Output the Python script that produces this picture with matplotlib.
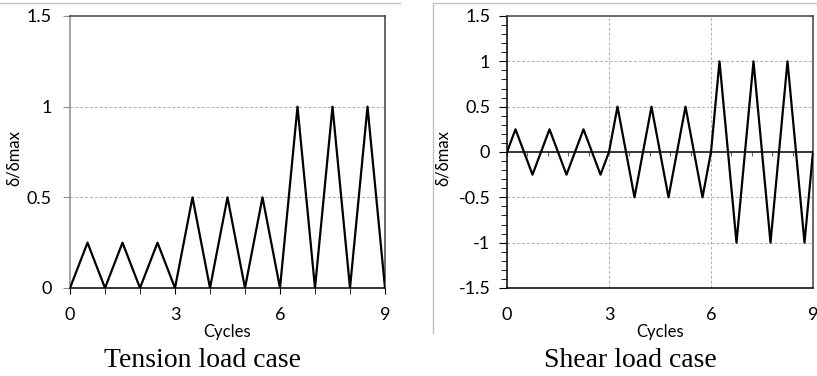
import matplotlib.pyplot as plt
from matplotlib.lines import Line2D
from matplotlib.ticker import MultipleLocator

# tension: one triangle per cycle, amplitude steps every 3 cycles
tension_x = [0, 0.5, 1, 1.5, 2, 2.5, 3, 3.5, 4, 4.5, 5, 5.5, 6, 6.5, 7, 7.5, 8, 8.5, 9]
tension_y = [0, 0.25, 0, 0.25, 0, 0.25, 0, 0.5, 0, 0.5, 0, 0.5, 0, 1, 0, 1, 0, 1, 0]

# shear: fully reversed cycles
shear_x = [0, 0.25, 0.75, 1.25, 1.75, 2.25, 2.75, 3, 3.25, 3.75, 4.25, 4.75, 5.25, 5.75,
           6, 6.25, 6.75, 7.25, 7.75, 8.25, 8.75, 9]
shear_y = [0, 0.25, -0.25, 0.25, -0.25, 0.25, -0.25, 0, 0.5, -0.5, 0.5, -0.5, 0.5, -0.5,
           0, 1, -1, 1, -1, 1, -1, 0]

x_ticks = [0, 3, 6, 9]
tension_yticks = [0, 0.5, 1, 1.5]
shear_yticks = [-1.5, -1, -0.5, 0, 0.5, 1, 1.5]

ylabel = 'δ/δmax'
tick_font = ['Lato', 'DejaVu Sans']
grid_kw = dict(color='#b0b0b0', linestyle=(0, (3, 2)), linewidth=0.7)

fig = plt.figure(figsize=(8.17, 3.76), dpi=100)

# panel frames
fig.add_artist(Line2D([0, 400 / 817], [1 - 3 / 376] * 2, transform=fig.transFigure,
                      color='#c0c0c0', lw=1))
fig.add_artist(Line2D([433 / 817, 433 / 817, 1], [1 - 333 / 376, 1 - 3 / 376, 1 - 3 / 376],
                      transform=fig.transFigure, color='#c0c0c0', lw=1))

# ---- tension
ax1 = fig.add_axes([70 / 817, 1 - 288 / 376, 315 / 817, 272 / 376])
ax1.plot(tension_x, tension_y, color='black', lw=1.6, zorder=3)
ax1.set_xlim(0, 9)
ax1.set_ylim(0, 1.5)
ax1.set_xticks(x_ticks)
ax1.xaxis.set_minor_locator(MultipleLocator(1))
ax1.set_yticks(tension_yticks)
ax1.set_yticklabels(['0', '0.5', '1', '1.5'])
for v in [0.5, 1]:
    ax1.axhline(v, **grid_kw, zorder=1)
ax1.spines['left'].set_color('#8c8c8c')
ax1.spines['top'].set_color('#404040')
ax1.spines['right'].set_color('#404040')
ax1.spines['bottom'].set_color('black')
for s in ax1.spines.values():
    s.set_linewidth(1.1)
ax1.tick_params(axis='y', direction='out', length=5, pad=8, color='#8c8c8c')
ax1.tick_params(axis='x', which='both', direction='out', length=4, pad=10)
ax1.set_xlabel('Cycles', fontsize=12, family=tick_font)
ax1.xaxis.set_label_coords((227 - 70) / 315, -(324 - 288) / 272)
ax1.set_ylabel(ylabel, fontsize=12, family=tick_font)
ax1.yaxis.set_label_coords((22 - 70) / 315, (288 - 158) / 272)

# ---- shear
ax2 = fig.add_axes([507 / 817, 1 - 288 / 376, 306 / 817, 272 / 376])
ax2.plot(shear_x, shear_y, color='black', lw=1.6, zorder=3)
ax2.set_xlim(0, 9)
ax2.set_ylim(-1.5, 1.5)
ax2.set_xticks(x_ticks)
ax2.set_yticks(shear_yticks)
ax2.set_yticklabels(['-1.5', '-1', '-0.5', '0', '0.5', '1', '1.5'])
ax2.yaxis.set_minor_locator(MultipleLocator(0.1))
for v in [-1, -0.5, 0.5, 1]:
    ax2.axhline(v, **grid_kw, zorder=1)
for v in [3, 6]:
    ax2.axvline(v, **grid_kw, zorder=1)
ax2.axhline(0, color='black', lw=1.1, zorder=2)
ax2.spines['top'].set_color('#404040')
ax2.spines['right'].set_color('#404040')
for s in ax2.spines.values():
    s.set_linewidth(1.1)
ax2.tick_params(axis='y', which='major', direction='out', length=6, pad=6)
ax2.tick_params(axis='y', which='minor', direction='out', length=4)
ax2.tick_params(axis='x', direction='out', length=0, pad=14)

# minor ticks hanging off the zero line
zero_ax = ax2.secondary_xaxis(0.5)
for s in zero_ax.spines.values():
    s.set_visible(False)
zero_ax.xaxis.set_major_locator(MultipleLocator(0.6))
zero_ax.xaxis.set_ticks_position('bottom')
zero_ax.tick_params(axis='x', direction='out', length=3, width=0.8, color='#606060',
                    labelbottom=False, labeltop=False)
ax2.set_xlabel('Cycles', fontsize=12, family=tick_font)
ax2.xaxis.set_label_coords((660 - 507) / 306, -(324 - 288) / 272)
ax2.set_ylabel(ylabel, fontsize=12, family=tick_font)
ax2.yaxis.set_label_coords((451 - 507) / 306, (288 - 158) / 272)

for ax in (ax1, ax2):
    for lab in ax.get_xticklabels() + ax.get_yticklabels():
        lab.set_fontfamily(tick_font)
        lab.set_fontsize(13)
    ax.set_facecolor('white')

fig.text(203 / 817, 1 - 367 / 376, 'Tension load case', ha='center', va='baseline',
         family='Liberation Serif', fontsize=20)
fig.text(630 / 817, 1 - 367 / 376, 'Shear load case', ha='center', va='baseline',
         family='Liberation Serif', fontsize=20)

fig.savefig('out.png', dpi=100)
